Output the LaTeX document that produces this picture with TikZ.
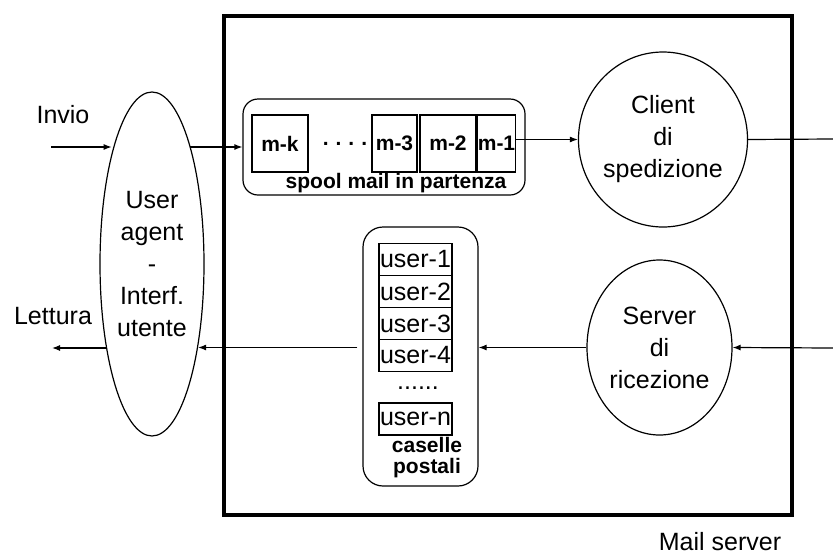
\documentclass[tikz,border=0pt]{standalone}
\usepackage{fontspec}
\setmainfont{Liberation Sans}
\usetikzlibrary{shapes.geometric,arrows.meta}
\begin{document}
\begin{tikzpicture}[x=1pt,y=-1pt,
  thin line/.style={line width=1.2pt},
  arr/.style={thin line,-{Latex[length=8pt,width=6pt]}},
  oval/.style={ellipse,draw,thin line,inner sep=0pt,align=center,font=\fontsize{25}{32}\selectfont},
  msgbox/.style={draw,thin line,inner sep=0pt,minimum height=57pt,font=\bfseries\fontsize{21}{24}\selectfont},
  userbox/.style={draw,thin line,inner sep=0pt,minimum width=73pt,minimum height=32pt,font=\fontsize{25}{28}\selectfont},
  lbl/.style={inner sep=0pt,font=\fontsize{25}{30}\selectfont},
  blbl/.style={inner sep=0pt,font=\bfseries\fontsize{21}{21}\selectfont,align=center}]
\useasboundingbox (0,0) rectangle (833,555);
% main box
\node[draw,line width=3.5pt,minimum width=568pt,minimum height=499pt,inner sep=0pt] (mainbox) at (507.8,265.5) {};
% user agent
\node[oval,minimum width=104pt,minimum height=344pt] (ua) at (152,264) {User\\agent\\-\\Interf.\\utente};
% client / server
\node[oval,minimum width=153pt,minimum height=175pt] (client) at (663,139.5) {Client\\di\\spedizione};
\node[oval,minimum width=145pt,minimum height=175pt] (server) at (659.5,347.5) {Server\\di\\ricezione};
% spool
\node[draw,thin line,rounded corners=15pt,minimum width=282pt,minimum height=96pt,inner sep=0pt] (spool) at (384,147) {};
\node[msgbox,minimum width=56pt] (mk) at (280,143.5) {m-k};
\node[msgbox,minimum width=45pt] (m3) at (394.5,143.5) {m-3};
\node[msgbox,minimum width=56pt] (m2) at (448,143.5) {m-2};
\node[msgbox,minimum width=37pt] (m1) at (496.5,143.5) {m-1};
\node[inner sep=0pt,font=\bfseries\fontsize{21}{24}\selectfont] (dots) at (345,144) {.\,\,.\,\,.\,\,.};
\node[blbl,anchor=base] (spoollbl) at (396,188) {spool mail in partenza};
% caselle postali
\node[draw,thin line,rounded corners=20pt,minimum width=115pt,minimum height=259pt,inner sep=0pt] (cas) at (420.5,356.5) {};
\node[userbox] (u1) at (415.5,259.5) {user-1};
\node[userbox] (u2) at (415.5,291.5) {user-2};
\node[userbox] (u3) at (415.5,323.5) {user-3};
\node[userbox] (u4) at (415.5,355.5) {user-4};
\node[lbl] (udots) at (418,388) {......};
\node[userbox] (un) at (415.5,419) {user-n};
\node[blbl,font=\bfseries\fontsize{21}{21}\selectfont] (caslbl) at (427,457.5) {caselle\\postali};
% labels
\node[lbl,anchor=base] (invio) at (63,123) {Invio};
\node[lbl,anchor=base] (lettura) at (53,324) {Lettura};
\node[lbl,anchor=base] (mailsrv) at (720,550) {Mail server};
% connectors
\coordinate (inL) at (51,147);
\coordinate (outL) at (52,348);
\coordinate (inR) at (833,348);
\coordinate (outR) at (833,139);
\draw[arr] (inL) -- (ua.110 |- inL);
\draw[arr] (ua.72 |- spool.west) -- (spool.west);
\draw[arr] (m1.east |- client.west) -- (client.west);
\draw[thin line] (client.east) -- (outR);
\draw[arr] (inR) -- (server.east);
\draw[arr] (server.west) -- (cas.east |- server.west);
\draw[arr] ([xshift=-5pt]cas.west |- server.west) -- (ua.-61.6 |- server.west);
\draw[arr] (ua.241.6 |- outL) -- (outL);
\end{tikzpicture}
\end{document}
